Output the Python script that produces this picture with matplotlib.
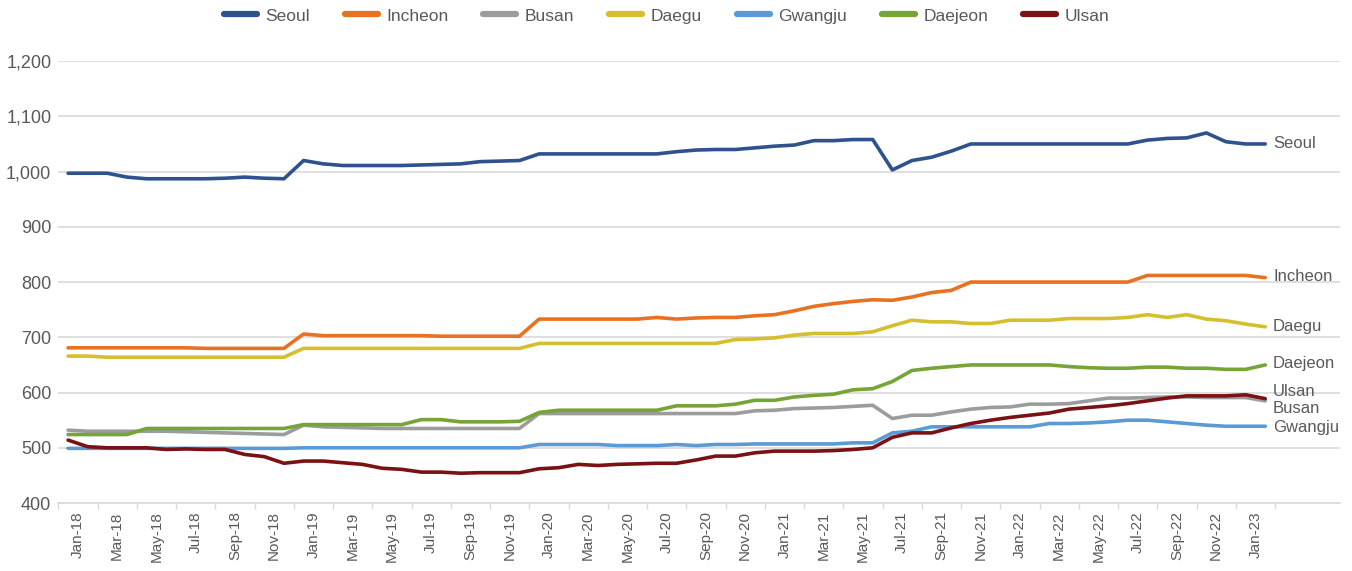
import numpy as np
import matplotlib.pyplot as plt
from matplotlib.ticker import FuncFormatter

# monthly values, Jan-18 .. Feb-23
seoul = [997, 997, 997, 990, 987, 987, 987, 987, 988, 990, 988, 987,
         1020, 1014, 1011, 1011, 1011, 1011, 1012, 1013, 1014, 1018, 1019, 1020,
         1032, 1032, 1032, 1032, 1032, 1032, 1032, 1036, 1039, 1040, 1040, 1043,
         1046, 1048, 1056, 1056, 1058, 1058, 1003, 1020, 1026, 1037, 1050, 1050,
         1050, 1050, 1050, 1050, 1050, 1050, 1050, 1057, 1060, 1061, 1070, 1054,
         1050, 1050]
incheon = [681, 681, 681, 681, 681, 681, 681, 680, 680, 680, 680, 680,
           706, 703, 703, 703, 703, 703, 703, 702, 702, 702, 702, 702,
           733, 733, 733, 733, 733, 733, 736, 733, 735, 736, 736, 739,
           741, 748, 756, 761, 765, 768, 767, 773, 781, 785, 800, 800,
           800, 800, 800, 800, 800, 800, 800, 812, 812, 812, 812, 812,
           812, 808]
busan = [532, 530, 530, 530, 530, 530, 529, 528, 527, 526, 525, 524,
         541, 538, 537, 536, 535, 535, 535, 535, 535, 535, 535, 535,
         562, 562, 562, 562, 562, 562, 562, 562, 562, 562, 562, 567,
         568, 571, 572, 573, 575, 577, 553, 559, 559, 565, 570, 573,
         574, 579, 579, 580, 585, 590, 590, 591, 592, 592, 591, 591,
         591, 585]
daegu = [666, 666, 664, 664, 664, 664, 664, 664, 664, 664, 664, 664,
         680, 680, 680, 680, 680, 680, 680, 680, 680, 680, 680, 680,
         689, 689, 689, 689, 689, 689, 689, 689, 689, 689, 696, 697,
         699, 704, 707, 707, 707, 710, 721, 731, 728, 728, 725, 725,
         731, 731, 731, 734, 734, 734, 736, 741, 736, 741, 733, 730,
         724, 719]
gwangju = [499, 499, 499, 499, 499, 499, 499, 499, 499, 499, 499, 499,
           500, 500, 500, 500, 500, 500, 500, 500, 500, 500, 500, 500,
           506, 506, 506, 506, 504, 504, 504, 506, 504, 506, 506, 507,
           507, 507, 507, 507, 509, 509, 527, 530, 538, 538, 538, 538,
           538, 538, 544, 544, 545, 547, 550, 550, 547, 544, 541, 539,
           539, 539]
daejeon = [524, 524, 524, 524, 535, 535, 535, 535, 535, 535, 535, 535,
           542, 542, 542, 542, 542, 542, 551, 551, 547, 547, 547, 548,
           564, 568, 568, 568, 568, 568, 568, 576, 576, 576, 579, 586,
           586, 592, 595, 597, 605, 607, 620, 640, 644, 647, 650, 650,
           650, 650, 650, 647, 645, 644, 644, 646, 646, 644, 644, 642,
           642, 650]
ulsan = [514, 502, 500, 500, 500, 497, 498, 497, 497, 488, 484, 472,
         476, 476, 473, 470, 463, 461, 456, 456, 454, 455, 455, 455,
         462, 464, 470, 468, 470, 471, 472, 472, 478, 485, 485, 491,
         494, 494, 494, 495, 497, 500, 519, 527, 527, 536, 544, 550,
         555, 559, 563, 570, 573, 576, 580, 585, 590, 594, 594, 594,
         596, 589]

tick_labels = ['Jan-18', 'Mar-18', 'May-18', 'Jul-18', 'Sep-18', 'Nov-18',
               'Jan-19', 'Mar-19', 'May-19', 'Jul-19', 'Sep-19', 'Nov-19',
               'Jan-20', 'Mar-20', 'May-20', 'Jul-20', 'Sep-20', 'Nov-20',
               'Jan-21', 'Mar-21', 'May-21', 'Jul-21', 'Sep-21', 'Nov-21',
               'Jan-22', 'Mar-22', 'May-22', 'Jul-22', 'Sep-22', 'Nov-22',
               'Jan-23']

series = [('Seoul', seoul, '#2F528F'),
          ('Incheon', incheon, '#E97122'),
          ('Busan', busan, '#9C9C9C'),
          ('Daegu', daegu, '#D5BF2E'),
          ('Gwangju', gwangju, '#5B9BD5'),
          ('Daejeon', daejeon, '#76A436'),
          ('Ulsan', ulsan, '#7A1114')]

# nudge end labels so they don't collide
label_shift = {'Seoul': 0, 'Incheon': 2, 'Busan': -14, 'Daegu': 1,
               'Gwangju': -2, 'Daejeon': 3, 'Ulsan': 13}

fam = ['Liberation Sans', 'DejaVu Sans']
txt_col = '#595959'

fig, ax = plt.subplots(figsize=(13.52, 5.71), dpi=100)
fig.subplots_adjust(left=0.0431, right=0.991, bottom=0.119, top=0.893)

x = np.arange(len(seoul))
for name, vals, col in series:
    ax.plot(x, vals, color=col, lw=2.6, label=name, solid_capstyle='round', solid_joinstyle='round')
    ax.text(x[-1] + 0.4, vals[-1] + label_shift[name], name, family=fam,
            fontsize=12, color=txt_col, va='center', ha='left')

ax.set_ylim(400, 1200)
ax.set_xlim(-0.5, 64.8)
ax.set_yticks(range(400, 1201, 100))
ax.yaxis.set_major_formatter(FuncFormatter(lambda v, p: f'{int(v):,}'))
ax.tick_params(axis='y', length=0, pad=5, labelsize=13, labelcolor=txt_col)
for t in ax.get_yticklabels():
    t.set_family(fam)
ax.grid(axis='y', color='#D9D9D9', lw=1.2)
ax.set_axisbelow(True)

for s in ['top', 'right', 'left']:
    ax.spines[s].set_visible(False)
ax.spines['bottom'].set_color('#D9D9D9')
ax.spines['bottom'].set_linewidth(1.2)

ax.set_xticks(np.arange(-0.5, 62, 2))
ax.set_xticklabels([])
ax.tick_params(axis='x', which='major', length=4, color='#D9D9D9', width=1)
ax.set_xticks(np.arange(0.5, 61, 2), minor=True)
ax.set_xticklabels(tick_labels, minor=True, rotation=90, fontsize=11,
                   color=txt_col, family=fam)
ax.tick_params(axis='x', which='minor', length=0, pad=6)

leg = fig.legend(loc='center', bbox_to_anchor=(0.493, 0.972), ncol=7, frameon=False,
                 handlelength=1.9, handletextpad=0.5, columnspacing=2.0,
                 prop={'family': fam, 'size': 12.5})
for t in leg.get_texts():
    t.set_color(txt_col)
for h in leg.legend_handles:
    h.set_linewidth(4.5)

plt.savefig('out.png', dpi=100)
